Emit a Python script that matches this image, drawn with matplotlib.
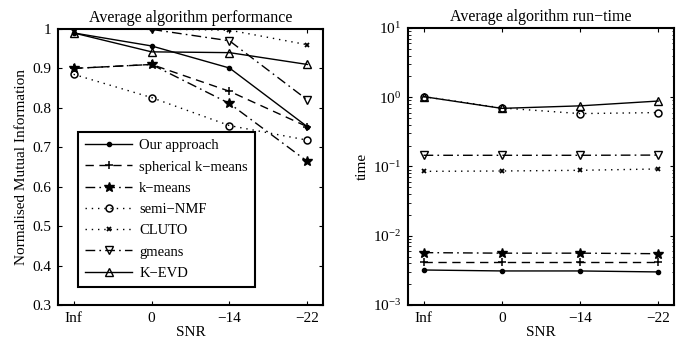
import matplotlib
matplotlib.use("Agg")
import matplotlib.pyplot as plt
from matplotlib.ticker import LogLocator, NullFormatter

plt.rcParams['font.family'] = ['Liberation Serif', 'DejaVu Serif']
plt.rcParams['mathtext.fontset'] = 'custom'
plt.rcParams['mathtext.rm'] = 'Liberation Serif'

snr_labels = ['Inf', '0', '\u221214', '\u221222']
methods = ['Our approach', 'spherical k\u2212means', 'k\u2212means', 'semi\u2212NMF',
           'CLUTO', 'gmeans', 'K\u2212EVD']

nmi_our = [0.990, 0.957, 0.901, 0.752]
nmi_sph = [0.900, 0.910, 0.842, 0.752]
nmi_km = [0.900, 0.910, 0.811, 0.664]
nmi_snmf = [0.885, 0.826, 0.755, 0.718]
nmi_cluto = [1.000, 1.000, 0.997, 0.960]
nmi_gm = [1.000, 0.999, 0.970, 0.820]
nmi_kevd = [0.990, 0.942, 0.940, 0.910]

t_our = [3.2e-3, 3.1e-3, 3.1e-3, 3.0e-3]
t_sph = [4.2e-3, 4.2e-3, 4.2e-3, 4.2e-3]
t_km = [5.7e-3, 5.6e-3, 5.6e-3, 5.5e-3]
t_snmf = [1.02, 0.70, 0.58, 0.60]
t_cluto = [0.085, 0.086, 0.088, 0.092]
t_gm = [0.145, 0.145, 0.145, 0.146]
t_kevd = [1.02, 0.69, 0.75, 0.88]

nmi = [nmi_our, nmi_sph, nmi_km, nmi_snmf, nmi_cluto, nmi_gm, nmi_kevd]
tim = [t_our, t_sph, t_km, t_snmf, t_cluto, t_gm, t_kevd]

dash = (0, (6, 4))
dashdot = (0, (7, 3, 1.2, 3))
dot = (0, (1, 3.5))
styles = [
    dict(ls='-', marker='.', ms=6, mfc='k'),
    dict(ls=dash, marker='+', ms=6, mfc='k', mew=1.1),
    dict(ls=dashdot, marker='*', ms=7, mfc='k'),
    dict(ls=dot, marker='o', ms=5, mfc='none', mew=1.1),
    dict(ls=dot, marker='x', ms=3.5, mfc='k', mew=1.3),
    dict(ls=dashdot, marker='v', ms=6, mfc='none', mew=1.0),
    dict(ls='-', marker='^', ms=6, mfc='none', mew=1.0),
]

x = [1, 2, 3, 4]
fig = plt.figure(figsize=(6.89, 3.45), dpi=100)
ax1 = fig.add_axes([0.0842, 0.116, 0.3846, 0.800])
ax2 = fig.add_axes([0.592, 0.116, 0.386, 0.803])

for vals, lab, st in zip(nmi, methods, styles):
    ax1.plot(x, vals, color='k', lw=1.0, mec='k', label=lab, **st)
for vals, lab, st in zip(tim, methods, styles):
    ax2.plot(x, vals, color='k', lw=1.0, mec='k', label=lab, **st)

for ax in (ax1, ax2):
    ax.set_xlim(0.8, 4.2)
    ax.set_xticks(x)
    ax.set_xticklabels(snr_labels)
    ax.tick_params(direction='in', top=True, right=True, labelsize=11, length=3, width=0.8, pad=5)
    ax.tick_params(which='minor', direction='in', top=True, right=True, length=1.8, width=0.6)
    for s in ax.spines.values():
        s.set_linewidth(1.5)
    ax.set_xlabel('SNR', fontsize=11, labelpad=1)

ax1.set_ylim(0.3, 1.0)
ax1.set_yticks([0.3, 0.4, 0.5, 0.6, 0.7, 0.8, 0.9, 1.0])
ax1.set_yticklabels(['0.3', '0.4', '0.5', '0.6', '0.7', '0.8', '0.9', '1'])
ax1.set_ylabel('Normalised Mutual Information', fontsize=11, labelpad=3)
ax1.set_title('Average algorithm performance', fontsize=11.5, pad=5)

ax2.set_yscale('log')
ax2.set_ylim(1e-3, 1e1)
ax2.yaxis.set_major_locator(LogLocator(base=10, numticks=10))
ax2.yaxis.set_minor_locator(LogLocator(base=10, subs=range(2, 10), numticks=10))
ax2.yaxis.set_minor_formatter(NullFormatter())
ax2.set_ylabel('time', fontsize=11, labelpad=3)
ax2.set_title('Average algorithm run\u2212time', fontsize=11.5, pad=5)

leg = ax1.legend(loc='lower left', bbox_to_anchor=(0.075, 0.065), borderaxespad=0,
                 fontsize=10.5, handlelength=3.2, labelspacing=0.55, handletextpad=0.5,
                 borderpad=0.5, fancybox=False, framealpha=1, edgecolor='k')
leg.get_frame().set_linewidth(1.5)

fig.savefig('out.png', dpi=100)
